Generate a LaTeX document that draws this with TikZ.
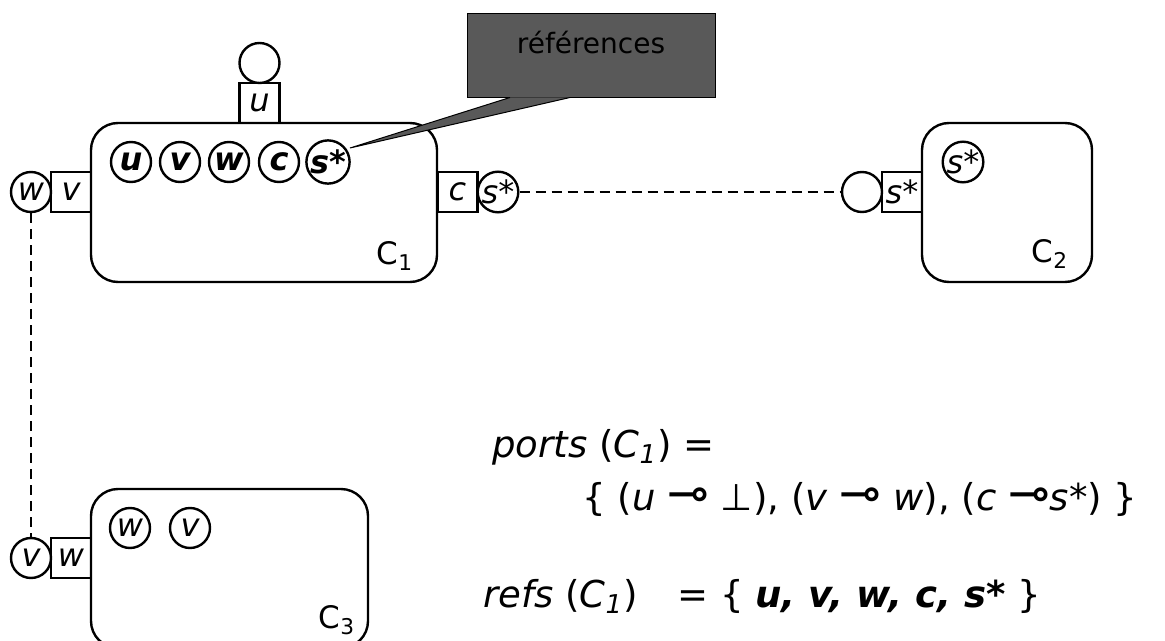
\documentclass[tikz,border=0pt]{standalone}
\usepackage{fontspec}
\setmainfont{DejaVu Sans}
\usetikzlibrary{positioning}
\definecolor{notegray}{HTML}{595959}
\newcommand{\lolli}{\scalebox{1.35}[1.35]{⊸}}
\begin{document}
\begin{tikzpicture}[x=0.5pt,y=-0.5pt,
        comp/.style = {draw, line width=1.2pt, rounded corners=13.5pt, inner sep=0pt, minimum height=79.5pt},
        port/.style = {draw, line width=1.2pt, minimum size=20pt, inner sep=0pt, font=\fontsize{16}{16}\selectfont\itshape},
        pin/.style = {draw, circle, line width=1.2pt, minimum size=20pt, inner sep=0pt, font=\fontsize{16}{16}\selectfont\itshape},
        refpin/.style = {pin, font=\fontsize{16}{16}\selectfont\bfseries\itshape},
        link/.style = {line width=1.2pt, dash pattern=on 5pt off 3pt}]
    \useasboundingbox (0,0) rectangle (1165,641);
    \node[comp, minimum width=173pt] (c1) at (264,202.5) {};
    \node[comp, minimum width=85pt] (c2) at (1007,202.5) {};
    \node[comp, minimum width=138.5pt] (c3) at (229.5,568.5) {};
    \begin{scope}[every node/.append style = {font = \fontsize{15.5}{15.5}\selectfont}]
        \node (l1) at (395,256) {C\textsubscript{1}};
        \node (l2) at (1050,254) {C\textsubscript{2}};
        \node (l3) at (337,620) {C\textsubscript{3}};
    \end{scope}
    \node[port] (pu) at (259.5,103) {u};
    \node[pin] (eu) at (259.5,63) {};
    \node[port] (pv) at (71,192) {v};
    \node[pin] (ew) at (31,192) {w};
    \node[port] (pc) at (457.5,192) {c};
    \node[pin] (es) at (498,192) {s*};
    \node[port] (ps) at (902,192) {s*};
    \node[pin] (e2) at (862,192) {};
    \node[port] (pw) at (71,558) {w};
    \node[pin] (ev) at (31,558) {v};
    \foreach \x/\t [count=\i] in {131/u,180/v,229/w,279/c,328/s*}
        \node[refpin] (r\i) at (\x,162) {\t};
    \node[pin] (s2) at (963,162) {s*};
    \node[pin] (w3) at (130,528) {w};
    \node[pin] (v3) at (190,528) {v};
    \draw[link] (es) -- (e2);
    \draw[link] (ew) -- (ev);
    \node[draw, line width=0.5pt, fill=notegray, minimum width=124pt, minimum height=42pt] (note) at (591,56) {};
    \coordinate (tip) at (350,148);
    \filldraw[fill=notegray, line width=0.5pt] ([xshift=-40.5pt,yshift=0.5pt]note.south) -- (tip) -- ([xshift=-10.5pt,yshift=0.5pt]note.south);
    \node[font=\fontsize{14}{14}\selectfont] (notetext) at (591,43) {références};
    \begin{scope}[every node/.append style = {font = \fontsize{18.5}{18.5}\selectfont, anchor = base west, inner sep = 0pt}]
        \node (ports) at (492,457) {\textit{ports} (\textit{C\textsubscript{1}}) =};
        \node (portset) at (582,510) {\{ (\textit{u} \lolli\ ⊥), (\textit{v} \lolli\ \textit{w}), (\textit{c} \lolli\textit{s*}) \}};
        \node (refs) at (483,607) {\textit{refs} (\textit{C\textsubscript{1}})};
        \node (refset) at (677,607) {= \{ \textbf{\textit{u, v, w, c, s*}} \}};
    \end{scope}
\end{tikzpicture}
\end{document}
